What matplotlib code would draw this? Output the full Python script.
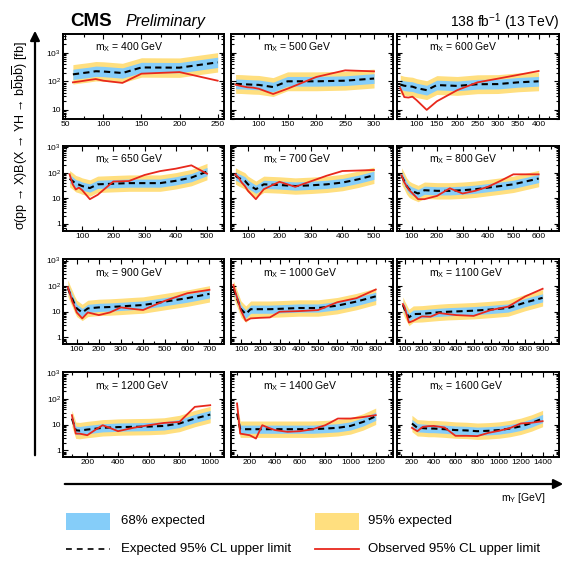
import matplotlib
matplotlib.use('Agg')
import matplotlib.pyplot as plt
from matplotlib.patches import Rectangle
from matplotlib.ticker import FixedLocator, FixedFormatter, MultipleLocator, NullFormatter
import numpy as np

plt.rcParams['font.family'] = ['Liberation Sans', 'DejaVu Sans']
plt.rcParams['mathtext.fontset'] = 'custom'
plt.rcParams['mathtext.rm'] = 'Liberation Sans'
plt.rcParams['mathtext.it'] = 'Liberation Sans:italic'
plt.rcParams['mathtext.bf'] = 'Liberation Sans:bold'

# mX of each panel and the mY grid of each panel
mx_values = [400, 500, 600, 650, 700, 800, 900, 1000, 1100, 1200, 1400, 1600]

my_400 = [60, 70, 80, 90, 100, 125, 150, 200, 250]
my_500 = [60, 70, 80, 90, 100, 125, 150, 200, 250, 300]
my_600 = [60, 70, 80, 90, 100, 125, 150, 200, 250, 300, 350, 400]
my_650 = [60, 70, 80, 90, 100, 125, 150, 200, 250, 300, 350, 400, 450, 500]
my_700 = [60, 70, 80, 90, 100, 125, 150, 200, 250, 300, 350, 400, 450, 500]
my_800 = [60, 70, 80, 90, 100, 125, 150, 200, 250, 300, 350, 400, 450, 500, 600]
my_900 = [60, 70, 80, 90, 100, 125, 150, 200, 250, 300, 350, 400, 450, 500, 600, 700]
my_1000 = [60, 70, 80, 90, 100, 125, 150, 200, 250, 300, 350, 400, 500, 600, 700, 800]
my_1100 = [90, 100, 125, 150, 200, 250, 300, 350, 400, 500, 600, 700, 800, 900]
my_1200 = [100, 125, 150, 200, 250, 300, 350, 400, 500, 600, 700, 800, 900, 1000]
my_1400 = [100, 125, 150, 200, 250, 300, 350, 400, 500, 600, 700, 800, 900, 1000, 1100, 1200]
my_1600 = [200, 250, 300, 350, 400, 500, 600, 700, 800, 900, 1000, 1100, 1200, 1300, 1400]

# expected limits [fb]
exp_400 = [175, 190, 205, 225, 220, 195, 305, 300, 460]
exp_500 = [81, 80, 78, 76, 75, 63, 100, 100, 105, 125]
exp_600 = [77, 70, 67, 65, 58, 49, 74, 69, 79, 80, 92, 100]
exp_650 = [58, 47, 37, 34, 30, 25, 35, 37, 39, 39, 39, 48, 64, 110]
exp_700 = [74, 63, 55, 48, 35, 22.5, 35, 33, 30, 32, 35, 41, 55, 79]
exp_800 = [74, 48, 30, 22.5, 19.5, 15.3, 20.6, 19.5, 19.5, 20.6, 22.5, 26, 30, 35, 59]
exp_900 = [83, 50, 32, 20, 13.5, 9.4, 13.5, 14.8, 15.3, 16.2, 17.3, 18.3, 21.4, 25, 34, 50]
exp_1000 = [79, 50, 32, 20, 12.6, 8.1, 12.6, 12.6, 12.6, 13, 13.5, 14, 14, 17.3, 25, 40]
exp_1100 = [18.3, 12.6, 6, 8.1, 8.3, 8.9, 9.5, 10, 10.3, 11, 12.3, 14, 23, 35]
exp_1200 = [17.5, 6.1, 5.9, 6.5, 7, 7.6, 7.8, 8.1, 8.3, 8.5, 9, 11.2, 17.5, 25]
exp_1400 = [27.5, 6.7, 6.7, 6.7, 6.7, 6.7, 6.7, 6.7, 6.7, 6.7, 6.7, 7.1, 7.6, 9, 12.9, 21.5]
exp_1600 = [11.2, 7.6, 7.4, 7.1, 7.1, 6.7, 6.2, 6, 5.6, 5.8, 6.2, 7.1, 8.7, 11.8, 17.5]

# observed limits [fb]
obs_400 = [92, 100, 110, 120, 105, 88, 185, 210, 105]
obs_500 = [76, 68, 62, 60, 55, 36, 55, 142, 242, 223]
obs_600 = [58, 28, 27, 29, 22, 10, 20, 49, 92, 124, 168, 229]
obs_650 = [86, 35, 22, 26, 21, 9.2, 13.6, 45, 47, 81, 115, 143, 193, 91]
obs_700 = [86, 64, 41, 30, 19.5, 9.2, 22.5, 44, 28, 46, 76, 116, 121, 127]
obs_800 = [79, 43, 30, 21, 16.7, 9.2, 9.2, 12.4, 24.5, 15.3, 19.5, 28, 48, 86, 86]
obs_900 = [91, 50, 25, 16, 9.4, 5.5, 9.4, 7.4, 9.4, 14.8, 13, 11.7, 18, 27, 53, 72]
obs_1000 = [112, 60, 35, 20, 11, 4.4, 5.5, 5.8, 6, 10, 10.3, 10.6, 11.6, 23.5, 34, 74]
obs_1100 = [20, 15, 3.8, 4.4, 6.6, 6.4, 8.9, 8.1, 7.4, 6.9, 11.7, 15.8, 40, 79]
obs_1200 = [23.7, 4.5, 4.5, 3.9, 6.2, 9.6, 7.4, 5.6, 7.6, 9.6, 11.8, 12.9, 50, 58]
obs_1400 = [68, 4.5, 4.3, 3.9, 2.9, 9.6, 7.6, 6.2, 5.3, 5.6, 6.7, 9.6, 17.5, 17.5, 20, 23.7]
obs_1600 = [7.6, 5.6, 8.3, 8.8, 9, 7.8, 3.7, 3.7, 3.6, 4.8, 5.8, 7.4, 11.2, 12, 13.8]

# half widths of the 68% / 95% bands (in decades), one per panel
w68 = [0.18, 0.17, 0.17, 0.16, 0.16, 0.16, 0.16, 0.16, 0.16, 0.16, 0.16, 0.16]
w95 = [0.34, 0.33, 0.33, 0.32, 0.32, 0.32, 0.32, 0.32, 0.32, 0.32, 0.32, 0.32]

# x ranges and tick steps
xlims = [(47, 259), (52, 332), (52, 449), (39, 556), (46, 559), (42, 678),
         (38, 768), (48, 887), (56, 992), (42, 1093), (52, 1333), (63, 1546)]
xmajor = [50, 50, 50, 100, 100, 100, 100, 100, 100, 200, 200, 200]

my_all = [my_400, my_500, my_600, my_650, my_700, my_800, my_900, my_1000,
          my_1100, my_1200, my_1400, my_1600]
exp_all = [exp_400, exp_500, exp_600, exp_650, exp_700, exp_800, exp_900,
           exp_1000, exp_1100, exp_1200, exp_1400, exp_1600]
obs_all = [obs_400, obs_500, obs_600, obs_650, obs_700, obs_800, obs_900,
           obs_1000, obs_1100, obs_1200, obs_1400, obs_1600]

blue = '#85cdf9'
yellow = '#ffdf7f'
red = '#e8281c'

W, H = 580, 563
fig = plt.figure(figsize=(W / 100, H / 100), dpi=100)

lefts = [63, 231, 397]
tops = [33.5, 145.5, 259, 372]
pw, ph = 161.5, 85

for i, mx in enumerate(mx_values):
    r, c = divmod(i, 3)
    ax = fig.add_axes([lefts[c] / W, 1 - (tops[r] + ph) / H, pw / W, ph / H])
    x = np.array(my_all[i])
    e = np.array(exp_all[i], dtype=float)
    ax.fill_between(x, e * 10 ** -w95[i], e * 10 ** w95[i], color=yellow, lw=0)
    ax.fill_between(x, e * 10 ** -w68[i], e * 10 ** w68[i], color=blue, lw=0)
    ax.plot(x, e, color='k', ls='--', lw=1.5, dashes=(3, 2))
    ax.plot(x, obs_all[i], color=red, lw=1.3)
    ax.set_yscale('log')
    if r == 0:
        ax.set_ylim(5, 4700)
        yt = [10, 100, 1000]
        yl = ['10', '$10^{2}$', '$10^{3}$']
    else:
        ax.set_ylim(0.55, 1150)
        yt = [1, 10, 100, 1000]
        yl = ['1', '10', '$10^{2}$', '$10^{3}$']
    ax.yaxis.set_major_locator(FixedLocator(yt))
    ax.yaxis.set_major_formatter(FixedFormatter(yl))
    ax.yaxis.set_minor_locator(FixedLocator(
        [m * 10.0 ** k for k in range(-1, 4) for m in range(2, 10)]))
    ax.yaxis.set_minor_formatter(NullFormatter())
    ax.set_xlim(*xlims[i])
    ax.xaxis.set_major_locator(MultipleLocator(xmajor[i]))
    ax.xaxis.set_minor_locator(MultipleLocator(xmajor[i] / 2))
    ax.tick_params(which='both', direction='in', top=True, right=True,
                   labelsize=6, pad=1.5)
    ax.tick_params(which='major', length=3.5, width=0.8)
    ax.tick_params(which='minor', length=2, width=0.8)
    if c > 0:
        ax.tick_params(labelleft=False)
    for s in ax.spines.values():
        s.set_linewidth(1.4)
    ax.text(0.2, 0.84, r'm$_{\mathrm{X}}$ = %d GeV' % mx, transform=ax.transAxes,
            fontsize=7.5, va='center')

# overlay in pixel coordinates for arrows, header and legend
ov = fig.add_axes([0, 0, 1, 1])
ov.set_xlim(0, W)
ov.set_ylim(H, 0)
ov.axis('off')
ov.patch.set_alpha(0)

ov.annotate('', xy=(35, 28), xytext=(35, 458),
            arrowprops=dict(arrowstyle='-|>', lw=1.6, color='k', mutation_scale=14))
ov.annotate('', xy=(566, 484), xytext=(62, 484),
            arrowprops=dict(arrowstyle='-|>', lw=1.6, color='k', mutation_scale=14))

ov.text(20, 136, r'σ(pp → X)B(X → YH → b$\overline{\mathrm{b}}$b$\overline{\mathrm{b}}$) [fb]',
        rotation=90, fontsize=9, ha='center', va='center')
ov.text(546, 498, r'm$_{\mathrm{Y}}$ [GeV]', fontsize=7.5, ha='right', va='center')

ov.text(70, 21, 'CMS', fontsize=13.5, weight='bold', va='center')
ov.text(125, 21.5, 'Preliminary', fontsize=11.5, style='italic', va='center')
ov.text(559, 22, r'138 fb$^{-1}$ (13 TeV)', fontsize=10, ha='right', va='center')

ov.add_patch(Rectangle((66, 513), 44, 17, color=blue, lw=0))
ov.add_patch(Rectangle((315, 513), 44, 17, color=yellow, lw=0))
ov.plot([66, 110], [549, 549], color='k', ls='--', lw=1.2, dashes=(3.5, 3))
ov.plot([315, 359], [549, 549], color=red, lw=1.3)
ov.text(121, 521, '68% expected', fontsize=9.5, va='center')
ov.text(368, 521, '95% expected', fontsize=9.5, va='center')
ov.text(121, 549, 'Expected 95% CL upper limit', fontsize=9.5, va='center')
ov.text(368, 549, 'Observed 95% CL upper limit', fontsize=9.5, va='center')

fig.savefig('out.png', dpi=100)
